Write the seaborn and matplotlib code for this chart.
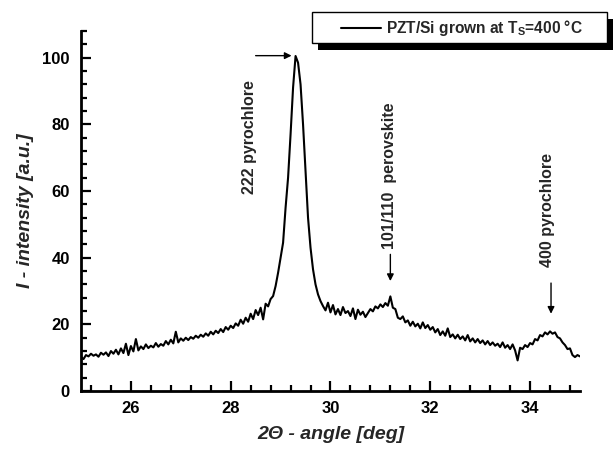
import numpy as np
import matplotlib
matplotlib.use("Agg")
import matplotlib.pyplot as plt
from matplotlib.ticker import MultipleLocator
from matplotlib.patches import Rectangle
import seaborn as sns

# XRD scan, 2theta grid in degrees (0.05 step)
two_theta = np.round(np.arange(25.0, 35.0001, 0.05), 2)

# intensity, one row per degree
intensity = [
    10.2, 9.6, 10.8, 10.4, 11.2, 10.6, 11.0, 10.3, 11.5, 10.9,
    11.6, 10.5, 12.0, 11.2, 12.4, 11.0, 12.8, 11.4, 14.2, 10.8, 13.5,
    11.9, 15.6, 12.2, 13.4, 12.6, 14.0, 12.9, 13.6, 13.1, 14.4,
    13.3, 14.1, 13.6, 15.0, 14.0, 15.4, 14.3, 17.8, 14.6, 15.8,
    15.1, 16.0, 15.3, 16.2, 15.7, 16.6, 16.0, 16.9, 16.3, 17.3,
    16.6, 17.8, 17.0, 18.1, 17.4, 18.6, 17.7, 19.2, 18.4, 19.6,
    18.9, 20.3, 19.6, 21.4, 20.2, 22.0, 20.8, 23.2, 21.6, 24.3,
    22.8, 25.0, 21.5, 26.2, 25.4, 27.6, 28.5, 31.5, 35.5, 40.0,
    44.5, 55.0, 64.0, 77.0, 91.0, 100.5, 98.5, 92.0, 80.0, 66.0,
    52.0, 43.0, 36.5, 32.0, 29.0, 27.0, 25.5, 24.2, 26.5, 23.6,
    25.8, 23.0, 24.6, 22.8, 25.2, 23.4, 24.0, 22.5, 24.8, 21.6,
    24.4, 22.9, 23.8, 22.2, 23.4, 24.6, 23.9, 25.4, 24.8, 26.0,
    25.2, 26.4, 25.6, 28.4, 25.0, 24.6, 22.0, 21.6, 22.4, 20.6,
    21.2, 19.6, 20.8, 19.4, 20.2, 18.8, 20.6, 18.9, 19.8, 18.4,
    19.2, 17.6, 18.6, 16.8, 17.9, 16.6, 18.8, 16.2, 17.0, 15.8,
    16.9, 15.6, 16.4, 15.2, 16.8, 14.9, 15.8, 14.6, 15.6, 14.4,
    15.2, 14.0, 15.0, 13.8, 14.6, 13.6, 14.2, 13.2, 14.6, 13.0,
    13.8, 12.6, 14.0, 12.2, 9.2, 13.0, 12.6, 13.8, 13.2, 14.4,
    14.0, 15.6, 15.2, 16.8, 16.4, 17.6, 17.0, 17.9, 17.2, 17.6,
    16.2, 15.8, 14.6, 13.8, 12.6, 12.8, 10.8, 10.2, 10.8, 10.4,
]

peak_labels = ["222 pyrochlore", "101/110  perovskite", "400 pyrochlore"]
label_pos = [(28.38, 59.0), (31.18, 42.5), (34.34, 37.2)]
legend_label = "PZT/Si grown at T$_\\mathbf{S}$=400 °C"

sns.set_style("ticks")
plt.rcParams["font.family"] = ["Liberation Sans", "DejaVu Sans"]
plt.rcParams["font.weight"] = "bold"
plt.rcParams["mathtext.fontset"] = "custom"
plt.rcParams["mathtext.rm"] = "Liberation Sans"
plt.rcParams["mathtext.bf"] = "Liberation Sans:bold"

fig = plt.figure(figsize=(6.16, 4.49), dpi=100)
ax = fig.add_axes([0.1315, 0.129, 0.81, 0.802])

sns.lineplot(x=two_theta, y=intensity, ax=ax, color="black", linewidth=1.5,
             label="PZT", legend=False)

ax.set_xlim(25, 35)
ax.set_ylim(0, 108)
ax.xaxis.set_major_locator(MultipleLocator(2))
ax.xaxis.set_minor_locator(MultipleLocator(0.4))
ax.yaxis.set_major_locator(MultipleLocator(20))
ax.yaxis.set_minor_locator(MultipleLocator(4))
ax.tick_params(which="both", direction="in", width=1.6, colors="black",
               labelsize=12)
ax.tick_params(axis="y", pad=8)
ax.tick_params(axis="x", pad=7)
ax.tick_params(which="major", length=7)
ax.tick_params(which="minor", length=4)
for lab in ax.get_xticklabels() + ax.get_yticklabels():
    lab.set_fontweight("bold")

sns.despine(ax=ax)
for side in ["left", "bottom"]:
    ax.spines[side].set_linewidth(2)
    ax.spines[side].set_color("black")

ax.set_xlabel("2Θ - angle [deg]", fontsize=14, fontweight="bold",
              fontstyle="italic", labelpad=7)
ax.set_ylabel("I - intensity [a.u.]", fontsize=14, fontweight="bold",
              fontstyle="italic", labelpad=6)

for txt, (px, py) in zip(peak_labels, label_pos):
    ax.text(px, py, txt, rotation=90, ha="center", va="bottom",
            fontsize=11.5, fontweight="bold")

arrow = dict(arrowstyle="-|>", color="black", lw=1, mutation_scale=10,
             shrinkA=0, shrinkB=0)
ax.annotate("", xy=(29.22, 100.6), xytext=(28.5, 100.6), arrowprops=arrow,
            annotation_clip=False)
ax.annotate("", xy=(31.2, 33.0), xytext=(31.2, 41.0), arrowprops=arrow)
ax.annotate("", xy=(34.42, 23.2), xytext=(34.42, 32.4), arrowprops=arrow)

# legend: framed box with a solid black drop shadow
W, H = 616, 449
box = (312, 12, 295, 31)  # left, top, width, height in pixels
fig.patches.append(Rectangle(((box[0] + 6) / W, 1 - (box[1] + box[3] + 7) / H),
                             box[2] / W, box[3] / H, transform=fig.transFigure,
                             facecolor="black", edgecolor="none", zorder=5))
fig.patches.append(Rectangle((box[0] / W, 1 - (box[1] + box[3]) / H),
                             box[2] / W, box[3] / H, transform=fig.transFigure,
                             facecolor="white", edgecolor="black", lw=1,
                             zorder=6))
handle = ax.lines[0]
leg = fig.legend([handle], [legend_label], loc="center left",
                 bbox_to_anchor=(341 / W, 1 - 28 / H), fontsize=11.2,
                 frameon=False, handlelength=2.6, handletextpad=0.3,
                 borderpad=0, borderaxespad=0)
leg.set_zorder(7)
for t in leg.get_texts():
    t.set_fontweight("bold")

fig.savefig("out.png", dpi=100)
